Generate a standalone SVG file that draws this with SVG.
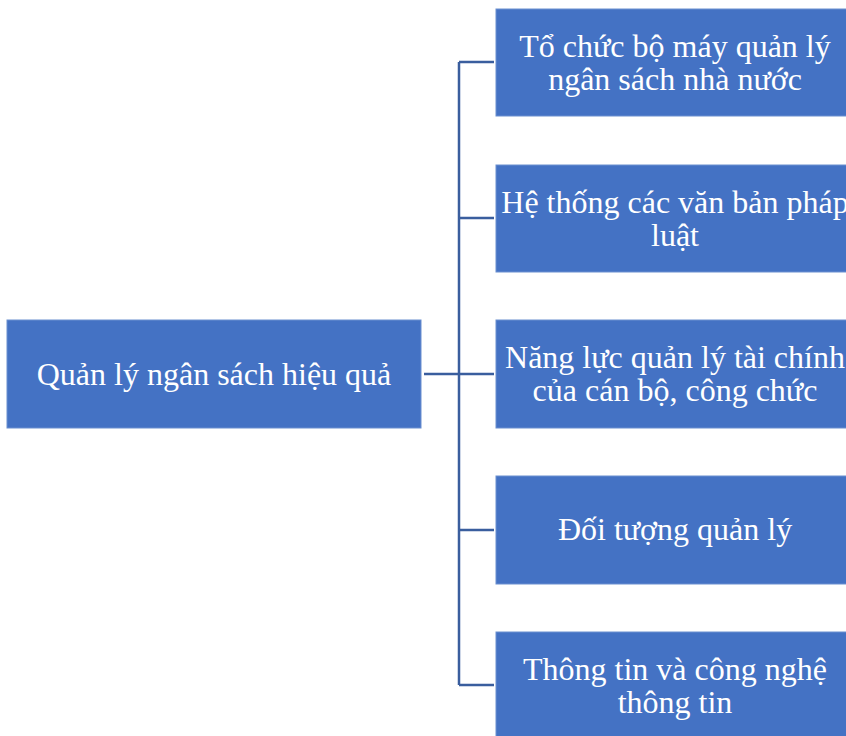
<svg xmlns="http://www.w3.org/2000/svg" width="846" height="736" viewBox="0 0 846 736">
<style>
.box{fill:#4472C4;stroke:#6A8FD0;stroke-width:1}
.t{font-family:"Liberation Serif","Times New Roman",serif;font-size:32px;fill:#FFFFFF;text-anchor:middle}
.c{stroke:#3A5E9E;stroke-width:2.5;fill:none}
</style>
<rect width="846" height="736" fill="#FFFFFF"/>
<g id="connectors">
<path class="c" d="M424 374 H459"/>
<path class="c" d="M459 62 V685"/>
<path class="c" d="M459 62 H494"/>
<path class="c" d="M459 218 H494"/>
<path class="c" d="M459 374 H494"/>
<path class="c" d="M459 530 H494"/>
<path class="c" d="M459 685 H494"/>
</g>
<g id="root">
<rect class="box" x="7" y="320" width="414" height="108"/>
<text class="t" x="214" y="385">Quản lý ngân sách hiệu quả</text>
</g>
<g id="n1">
<rect class="box" x="496" y="9" width="358" height="107"/>
<text class="t" x="675" y="57">Tổ chức bộ máy quản lý</text>
<text class="t" x="675" y="90">ngân sách nhà nước</text>
</g>
<g id="n2">
<rect class="box" x="496" y="165" width="358" height="107"/>
<text class="t" x="675" y="213">Hệ thống các văn bản pháp</text>
<text class="t" x="675" y="246">luật</text>
</g>
<g id="n3">
<rect class="box" x="496" y="320" width="358" height="108"/>
<text class="t" x="675" y="368">Năng lực quản lý tài chính</text>
<text class="t" x="675" y="401">của cán bộ, công chức</text>
</g>
<g id="n4">
<rect class="box" x="496" y="476" width="358" height="108"/>
<text class="t" x="675" y="540">Đối tượng quản lý</text>
</g>
<g id="n5">
<rect class="box" x="496" y="632" width="358" height="108"/>
<text class="t" x="675" y="680">Thông tin và công nghệ</text>
<text class="t" x="675" y="713">thông tin</text>
</g>
</svg>
